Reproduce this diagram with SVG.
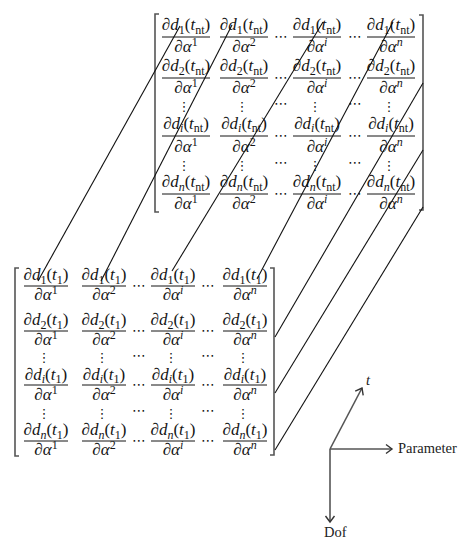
<svg xmlns="http://www.w3.org/2000/svg" width="474" height="558" viewBox="0 0 474 558">
<defs>
<style>
.m{font-family:"Liberation Serif","DejaVu Serif",serif;font-size:17px;fill:#151515;text-anchor:middle}
.i{font-style:italic}
.s{font-size:12px}
.d{font-family:"DejaVu Serif","DejaVu Sans",serif;font-size:14px;fill:#151515;text-anchor:middle}
.v{font-family:"DejaVu Serif","DejaVu Sans",serif;font-size:13px;fill:#151515;text-anchor:middle}
.bar{stroke:#151515;stroke-width:1;fill:none}
.br{stroke:#555;stroke-width:1.6;fill:none}
.cn{stroke:#111;stroke-width:1.1;fill:none}
.ax{stroke:#555;stroke-width:1.6;fill:none}
.lb{font-family:"Liberation Serif","DejaVu Serif",serif;font-size:14.5px;fill:#222}
</style>
<marker id="ah" markerUnits="userSpaceOnUse" markerWidth="12" markerHeight="12" refX="10" refY="6" orient="auto">
<path d="M4 1.5L10 6L4 10.5" fill="none" stroke="#333" stroke-width="1.4"/>
</marker>
</defs>
<rect width="474" height="558" fill="#fff"/>

<g id="matrix-tnt">
<path class="br" d="M159 14H155V212H159M419 15H423V210H419"/>
<path class="bar" d="M162 37h48M220 37h48M293 37h48M367 37h48M162 78h48M220 78h48M293 78h48M367 78h48M162 136h48M220 136h48M293 136h48M367 136h48M162 194h48M220 194h48M293 194h48M367 194h48"/>
<!-- row 1 -->
<text class="m" x="186" y="30">∂<tspan class="i">d</tspan><tspan class="s" dy="3.5">1</tspan><tspan dy="-3.5">(</tspan><tspan class="i">t</tspan><tspan class="s" dy="3.5">nt</tspan><tspan dy="-3.5">)</tspan></text>
<text class="m" x="244" y="30">∂<tspan class="i">d</tspan><tspan class="s" dy="3.5">1</tspan><tspan dy="-3.5">(</tspan><tspan class="i">t</tspan><tspan class="s" dy="3.5">nt</tspan><tspan dy="-3.5">)</tspan></text>
<text class="m" x="317" y="30">∂<tspan class="i">d</tspan><tspan class="s" dy="3.5">1</tspan><tspan dy="-3.5">(</tspan><tspan class="i">t</tspan><tspan class="s" dy="3.5">nt</tspan><tspan dy="-3.5">)</tspan></text>
<text class="m" x="391" y="30">∂<tspan class="i">d</tspan><tspan class="s" dy="3.5">1</tspan><tspan dy="-3.5">(</tspan><tspan class="i">t</tspan><tspan class="s" dy="3.5">nt</tspan><tspan dy="-3.5">)</tspan></text>
<text class="m" x="186" y="52">∂<tspan class="i">α</tspan><tspan class="s" dy="-6.5">1</tspan></text>
<text class="m" x="244" y="52">∂<tspan class="i">α</tspan><tspan class="s" dy="-6.5">2</tspan></text>
<text class="m" x="317" y="52">∂<tspan class="i">α</tspan><tspan class="s i" dy="-6.5">i</tspan></text>
<text class="m" x="391" y="52">∂<tspan class="i">α</tspan><tspan class="s i" dy="-6.5">n</tspan></text>
<!-- row 2 -->
<text class="m" x="186" y="71">∂<tspan class="i">d</tspan><tspan class="s" dy="3.5">2</tspan><tspan dy="-3.5">(</tspan><tspan class="i">t</tspan><tspan class="s" dy="3.5">nt</tspan><tspan dy="-3.5">)</tspan></text>
<text class="m" x="244" y="71">∂<tspan class="i">d</tspan><tspan class="s" dy="3.5">2</tspan><tspan dy="-3.5">(</tspan><tspan class="i">t</tspan><tspan class="s" dy="3.5">nt</tspan><tspan dy="-3.5">)</tspan></text>
<text class="m" x="317" y="71">∂<tspan class="i">d</tspan><tspan class="s" dy="3.5">2</tspan><tspan dy="-3.5">(</tspan><tspan class="i">t</tspan><tspan class="s" dy="3.5">nt</tspan><tspan dy="-3.5">)</tspan></text>
<text class="m" x="391" y="71">∂<tspan class="i">d</tspan><tspan class="s" dy="3.5">2</tspan><tspan dy="-3.5">(</tspan><tspan class="i">t</tspan><tspan class="s" dy="3.5">nt</tspan><tspan dy="-3.5">)</tspan></text>
<text class="m" x="186" y="93">∂<tspan class="i">α</tspan><tspan class="s" dy="-6.5">1</tspan></text>
<text class="m" x="244" y="93">∂<tspan class="i">α</tspan><tspan class="s" dy="-6.5">2</tspan></text>
<text class="m" x="317" y="93">∂<tspan class="i">α</tspan><tspan class="s i" dy="-6.5">i</tspan></text>
<text class="m" x="391" y="93">∂<tspan class="i">α</tspan><tspan class="s i" dy="-6.5">n</tspan></text>
<!-- row i -->
<text class="m" x="186" y="129">∂<tspan class="i">d</tspan><tspan class="s i" dy="3">i</tspan><tspan dy="-3">(</tspan><tspan class="i">t</tspan><tspan class="s" dy="3">nt</tspan><tspan dy="-3">)</tspan></text>
<text class="m" x="244" y="129">∂<tspan class="i">d</tspan><tspan class="s i" dy="3">i</tspan><tspan dy="-3">(</tspan><tspan class="i">t</tspan><tspan class="s" dy="3">nt</tspan><tspan dy="-3">)</tspan></text>
<text class="m" x="317" y="129">∂<tspan class="i">d</tspan><tspan class="s i" dy="3">i</tspan><tspan dy="-3">(</tspan><tspan class="i">t</tspan><tspan class="s" dy="3">nt</tspan><tspan dy="-3">)</tspan></text>
<text class="m" x="391" y="129">∂<tspan class="i">d</tspan><tspan class="s i" dy="3">i</tspan><tspan dy="-3">(</tspan><tspan class="i">t</tspan><tspan class="s" dy="3">nt</tspan><tspan dy="-3">)</tspan></text>
<text class="m" x="186" y="152">∂<tspan class="i">α</tspan><tspan class="s" dy="-6">1</tspan></text>
<text class="m" x="244" y="152">∂<tspan class="i">α</tspan><tspan class="s" dy="-6">2</tspan></text>
<text class="m" x="317" y="152">∂<tspan class="i">α</tspan><tspan class="s i" dy="-6">i</tspan></text>
<text class="m" x="391" y="152">∂<tspan class="i">α</tspan><tspan class="s i" dy="-6">n</tspan></text>
<!-- row n -->
<text class="m" x="186" y="187">∂<tspan class="i">d</tspan><tspan class="s i" dy="3.5">n</tspan><tspan dy="-3.5">(</tspan><tspan class="i">t</tspan><tspan class="s" dy="3.5">nt</tspan><tspan dy="-3.5">)</tspan></text>
<text class="m" x="244" y="187">∂<tspan class="i">d</tspan><tspan class="s i" dy="3.5">n</tspan><tspan dy="-3.5">(</tspan><tspan class="i">t</tspan><tspan class="s" dy="3.5">nt</tspan><tspan dy="-3.5">)</tspan></text>
<text class="m" x="317" y="187">∂<tspan class="i">d</tspan><tspan class="s i" dy="3.5">n</tspan><tspan dy="-3.5">(</tspan><tspan class="i">t</tspan><tspan class="s" dy="3.5">nt</tspan><tspan dy="-3.5">)</tspan></text>
<text class="m" x="391" y="187">∂<tspan class="i">d</tspan><tspan class="s i" dy="3.5">n</tspan><tspan dy="-3.5">(</tspan><tspan class="i">t</tspan><tspan class="s" dy="3.5">nt</tspan><tspan dy="-3.5">)</tspan></text>
<text class="m" x="186" y="209">∂<tspan class="i">α</tspan><tspan class="s" dy="-6.5">1</tspan></text>
<text class="m" x="244" y="209">∂<tspan class="i">α</tspan><tspan class="s" dy="-6.5">2</tspan></text>
<text class="m" x="317" y="209">∂<tspan class="i">α</tspan><tspan class="s i" dy="-6.5">i</tspan></text>
<text class="m" x="391" y="209">∂<tspan class="i">α</tspan><tspan class="s i" dy="-6.5">n</tspan></text>
<!-- dots -->
<text class="d" x="281" y="41">⋯</text><text class="d" x="355" y="41">⋯</text>
<text class="d" x="281" y="82">⋯</text><text class="d" x="355" y="82">⋯</text>
<text class="d" x="281" y="140">⋯</text><text class="d" x="355" y="140">⋯</text>
<text class="d" x="281" y="198">⋯</text><text class="d" x="355" y="198">⋯</text>
<text class="d" x="281" y="108">⋯</text><text class="d" x="355" y="108">⋯</text>
<text class="d" x="281" y="167">⋯</text><text class="d" x="355" y="167">⋯</text>
<text class="v" x="184" y="111">⋮</text><text class="v" x="242" y="111">⋮</text><text class="v" x="315" y="111">⋮</text><text class="v" x="389" y="111">⋮</text>
<text class="v" x="184" y="170">⋮</text><text class="v" x="242" y="170">⋮</text><text class="v" x="315" y="170">⋮</text><text class="v" x="389" y="170">⋮</text>
</g>

<g id="matrix-t1">
<path class="br" d="M19 268H15V456H19M270 268H274V455H270"/>
<path class="bar" d="M24 286h44M82 286h44M151 286h44M223 286h44M24 331h44M82 331h44M151 331h44M223 331h44M24 385h44M82 385h44M151 385h44M223 385h44M24 441h44M82 441h44M151 441h44M223 441h44"/>
<!-- row 1 -->
<text class="m" x="46" y="280">∂<tspan class="i">d</tspan><tspan class="s" dy="3.5">1</tspan><tspan dy="-3.5">(</tspan><tspan class="i">t</tspan><tspan class="s" dy="3.5">1</tspan><tspan dy="-3.5">)</tspan></text>
<text class="m" x="104" y="280">∂<tspan class="i">d</tspan><tspan class="s" dy="3.5">1</tspan><tspan dy="-3.5">(</tspan><tspan class="i">t</tspan><tspan class="s" dy="3.5">1</tspan><tspan dy="-3.5">)</tspan></text>
<text class="m" x="173" y="280">∂<tspan class="i">d</tspan><tspan class="s" dy="3.5">1</tspan><tspan dy="-3.5">(</tspan><tspan class="i">t</tspan><tspan class="s" dy="3.5">1</tspan><tspan dy="-3.5">)</tspan></text>
<text class="m" x="245" y="280">∂<tspan class="i">d</tspan><tspan class="s" dy="3.5">1</tspan><tspan dy="-3.5">(</tspan><tspan class="i">t</tspan><tspan class="s" dy="3.5">1</tspan><tspan dy="-3.5">)</tspan></text>
<text class="m" x="46" y="300">∂<tspan class="i">α</tspan><tspan class="s" dy="-6.5">1</tspan></text>
<text class="m" x="104" y="300">∂<tspan class="i">α</tspan><tspan class="s" dy="-6.5">2</tspan></text>
<text class="m" x="173" y="300">∂<tspan class="i">α</tspan><tspan class="s i" dy="-6.5">i</tspan></text>
<text class="m" x="245" y="300">∂<tspan class="i">α</tspan><tspan class="s i" dy="-6.5">n</tspan></text>
<!-- row 2 -->
<text class="m" x="46" y="325">∂<tspan class="i">d</tspan><tspan class="s" dy="3.5">2</tspan><tspan dy="-3.5">(</tspan><tspan class="i">t</tspan><tspan class="s" dy="3.5">1</tspan><tspan dy="-3.5">)</tspan></text>
<text class="m" x="104" y="325">∂<tspan class="i">d</tspan><tspan class="s" dy="3.5">2</tspan><tspan dy="-3.5">(</tspan><tspan class="i">t</tspan><tspan class="s" dy="3.5">1</tspan><tspan dy="-3.5">)</tspan></text>
<text class="m" x="173" y="325">∂<tspan class="i">d</tspan><tspan class="s" dy="3.5">2</tspan><tspan dy="-3.5">(</tspan><tspan class="i">t</tspan><tspan class="s" dy="3.5">1</tspan><tspan dy="-3.5">)</tspan></text>
<text class="m" x="245" y="325">∂<tspan class="i">d</tspan><tspan class="s" dy="3.5">2</tspan><tspan dy="-3.5">(</tspan><tspan class="i">t</tspan><tspan class="s" dy="3.5">1</tspan><tspan dy="-3.5">)</tspan></text>
<text class="m" x="46" y="345">∂<tspan class="i">α</tspan><tspan class="s" dy="-6.5">1</tspan></text>
<text class="m" x="104" y="345">∂<tspan class="i">α</tspan><tspan class="s" dy="-6.5">2</tspan></text>
<text class="m" x="173" y="345">∂<tspan class="i">α</tspan><tspan class="s i" dy="-6.5">i</tspan></text>
<text class="m" x="245" y="345">∂<tspan class="i">α</tspan><tspan class="s i" dy="-6.5">n</tspan></text>
<!-- row i -->
<text class="m" x="46" y="380">∂<tspan class="i">d</tspan><tspan class="s i" dy="3">i</tspan><tspan dy="-3">(</tspan><tspan class="i">t</tspan><tspan class="s" dy="3">1</tspan><tspan dy="-3">)</tspan></text>
<text class="m" x="104" y="380">∂<tspan class="i">d</tspan><tspan class="s i" dy="3">i</tspan><tspan dy="-3">(</tspan><tspan class="i">t</tspan><tspan class="s" dy="3">1</tspan><tspan dy="-3">)</tspan></text>
<text class="m" x="173" y="380">∂<tspan class="i">d</tspan><tspan class="s i" dy="3">i</tspan><tspan dy="-3">(</tspan><tspan class="i">t</tspan><tspan class="s" dy="3">1</tspan><tspan dy="-3">)</tspan></text>
<text class="m" x="245" y="380">∂<tspan class="i">d</tspan><tspan class="s i" dy="3">i</tspan><tspan dy="-3">(</tspan><tspan class="i">t</tspan><tspan class="s" dy="3">1</tspan><tspan dy="-3">)</tspan></text>
<text class="m" x="46" y="400">∂<tspan class="i">α</tspan><tspan class="s" dy="-6">1</tspan></text>
<text class="m" x="104" y="400">∂<tspan class="i">α</tspan><tspan class="s" dy="-6">2</tspan></text>
<text class="m" x="173" y="400">∂<tspan class="i">α</tspan><tspan class="s i" dy="-6">i</tspan></text>
<text class="m" x="245" y="400">∂<tspan class="i">α</tspan><tspan class="s i" dy="-6">n</tspan></text>
<!-- row n -->
<text class="m" x="46" y="435">∂<tspan class="i">d</tspan><tspan class="s i" dy="3.5">n</tspan><tspan dy="-3.5">(</tspan><tspan class="i">t</tspan><tspan class="s" dy="3.5">1</tspan><tspan dy="-3.5">)</tspan></text>
<text class="m" x="104" y="435">∂<tspan class="i">d</tspan><tspan class="s i" dy="3.5">n</tspan><tspan dy="-3.5">(</tspan><tspan class="i">t</tspan><tspan class="s" dy="3.5">1</tspan><tspan dy="-3.5">)</tspan></text>
<text class="m" x="173" y="435">∂<tspan class="i">d</tspan><tspan class="s i" dy="3.5">n</tspan><tspan dy="-3.5">(</tspan><tspan class="i">t</tspan><tspan class="s" dy="3.5">1</tspan><tspan dy="-3.5">)</tspan></text>
<text class="m" x="245" y="435">∂<tspan class="i">d</tspan><tspan class="s i" dy="3.5">n</tspan><tspan dy="-3.5">(</tspan><tspan class="i">t</tspan><tspan class="s" dy="3.5">1</tspan><tspan dy="-3.5">)</tspan></text>
<text class="m" x="46" y="455">∂<tspan class="i">α</tspan><tspan class="s" dy="-6.5">1</tspan></text>
<text class="m" x="104" y="455">∂<tspan class="i">α</tspan><tspan class="s" dy="-6.5">2</tspan></text>
<text class="m" x="173" y="455">∂<tspan class="i">α</tspan><tspan class="s i" dy="-6.5">i</tspan></text>
<text class="m" x="245" y="455">∂<tspan class="i">α</tspan><tspan class="s i" dy="-6.5">n</tspan></text>
<!-- dots -->
<text class="d" x="139" y="290">⋯</text><text class="d" x="208" y="290">⋯</text>
<text class="d" x="139" y="335">⋯</text><text class="d" x="208" y="335">⋯</text>
<text class="d" x="139" y="389">⋯</text><text class="d" x="208" y="389">⋯</text>
<text class="d" x="139" y="445">⋯</text><text class="d" x="208" y="445">⋯</text>
<text class="d" x="139" y="360">⋯</text><text class="d" x="208" y="360">⋯</text>
<text class="d" x="139" y="415">⋯</text><text class="d" x="208" y="415">⋯</text>
<text class="v" x="44" y="362">⋮</text><text class="v" x="102" y="362">⋮</text><text class="v" x="171" y="362">⋮</text><text class="v" x="243" y="362">⋮</text>
<text class="v" x="44" y="418">⋮</text><text class="v" x="102" y="418">⋮</text><text class="v" x="171" y="418">⋮</text><text class="v" x="243" y="418">⋮</text>
</g>

<g id="connectors">
<path class="cn" d="M38 281L180 26"/>
<path class="cn" d="M101 281L232 25"/>
<path class="cn" d="M172 271L323 22"/>
<path class="cn" d="M257 279L393 22"/>
<path class="cn" d="M275 337L423 83"/>
<path class="cn" d="M275 393L423 150"/>
<path class="cn" d="M275 450L423 207"/>
</g>

<g id="axes">
<path class="ax" d="M330 449L362 388" marker-end="url(#ah)"/>
<path class="ax" d="M330 449H392" marker-end="url(#ah)"/>
<path class="ax" d="M330 449V522" marker-end="url(#ah)"/>
<text class="lb i" x="366" y="385">t</text>
<text class="lb" x="398" y="453">Parameter</text>
<text class="lb" x="324" y="537">Dof</text>
</g>
</svg>
